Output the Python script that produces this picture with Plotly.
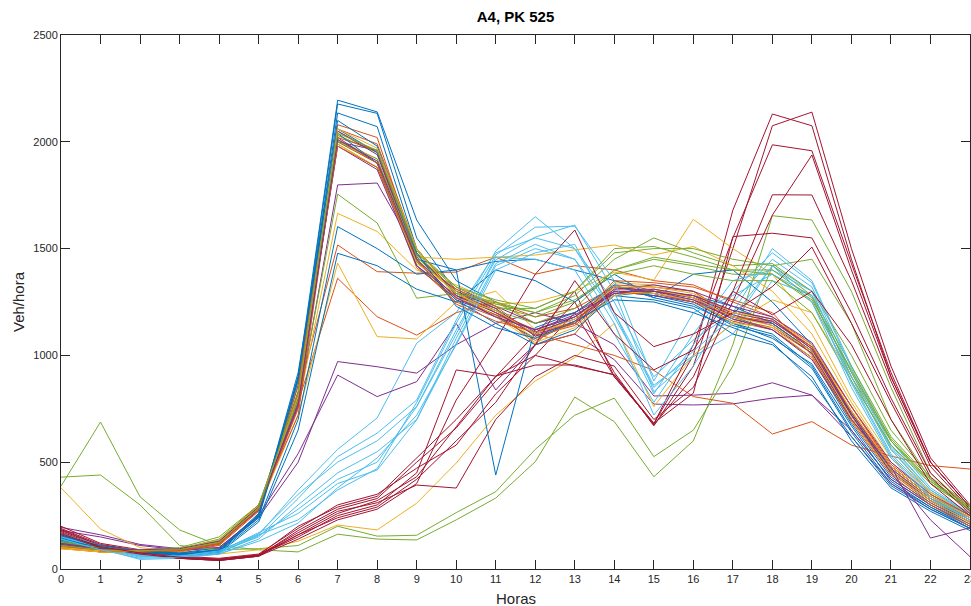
import plotly.graph_objects as go

horas = list(range(24))
tick_labels = [str(h) for h in horas]

# Lunes (azul)
lunes = [
    [150,110,85,70,90,260,900,2195,2140,1634,1350,1250,1150,1200,1320,1290,1250,1150,1100,950,650,420,300,210],
    [140,100,80,75,100,250,880,2177,2133,1550,1300,1200,1100,1180,1300,1280,1240,1140,1090,940,640,400,290,200],
    [160,105,75,70,85,240,860,2135,2071,1500,1280,1180,1080,1150,1280,1300,1270,1180,1120,990,680,430,310,220],
    [130,95,70,65,80,230,700,1603,1500,1380,1400,1440,1450,1400,1350,1300,1280,1230,1150,1020,700,450,320,230],
    [120,90,70,60,75,220,650,1478,1420,1310,1250,1400,1350,1250,1380,1270,1380,1400,1250,1050,720,460,330,240],
    [135,100,75,70,80,250,900,2060,1950,1450,1400,440,1130,1200,1330,1270,1230,1150,1080,960,670,410,290,190],
    [145,95,80,70,85,255,920,2040,1900,1420,1260,1150,1050,1120,1280,1260,1220,1100,1050,900,600,380,270,180],
    [155,110,85,75,90,245,890,2100,1980,1480,1230,1130,1080,1160,1260,1250,1200,1130,1060,880,620,390,280,190],
]
# Martes (naranja)
martes = [
    [110,85,80,80,110,270,820,1517,1392,1385,1390,1460,1380,1420,1400,1350,1330,1250,1180,1050,760,480,340,240],
    [100,80,75,85,115,280,780,1361,1181,1095,1200,1250,1180,1220,1320,1300,1280,1180,1150,1020,730,470,330,230],
    [95,80,80,90,120,285,860,2050,1950,1420,1250,1180,1100,1050,1000,930,807,776,632,690,580,529,484,468],
    [105,85,85,90,125,290,800,2080,2020,1470,1300,1200,1120,1180,1310,1310,1270,1170,1130,1010,720,460,320,220],
    [100,80,80,85,120,280,750,2060,1990,1500,1280,1220,1050,1100,1330,1320,1300,1180,1160,1030,740,480,340,240],
    [115,90,85,95,130,300,720,2020,1960,1440,1310,1230,1090,1140,1290,1290,1250,1160,1120,990,700,450,310,210],
    [100,85,80,85,115,275,830,2000,1900,1410,1270,1190,1070,1160,1300,1300,1280,1210,1170,1040,760,490,350,250],
    [110,85,80,90,120,280,810,1980,1880,1450,1240,1160,1110,1150,1350,1340,1320,1260,1200,1000,690,440,300,200],
]
# Miercoles (amarillo)
miercoles = [
    [105,85,85,95,130,290,760,1665,1580,1400,1330,1250,1150,1200,1320,1300,1280,1200,1160,1040,740,480,340,230],
    [100,80,80,90,125,280,720,1432,1088,1077,1250,1300,1120,1150,1340,1330,1300,1190,1150,1010,720,470,330,230],
    [380,187,100,80,70,90,130,206,183,308,496,720,880,990,1150,760,1000,1150,1260,1200,900,560,360,260],
    [110,85,85,95,130,290,780,2030,1950,1480,1320,1240,1250,1300,1390,1353,1637,1500,1380,1150,800,520,360,250],
    [100,80,80,90,120,285,800,2010,1920,1460,1450,1460,1470,1494,1517,1470,1510,1420,1300,1100,780,500,350,240],
    [95,80,80,90,120,280,830,2000,1900,1450,1290,1200,1080,1150,1300,1290,1260,1150,1130,990,700,450,320,220],
    [110,90,90,95,135,295,790,1990,1880,1430,1300,1180,1060,1130,1280,1310,1270,1180,1140,1020,710,460,330,230],
    [100,85,85,95,125,285,810,2060,1970,1500,1270,1210,1100,1170,1320,1320,1290,1200,1170,1050,740,480,340,240],
]
# Jueves (morado)
jueves = [
    [180,150,110,90,95,240,500,971,947,917,1050,1150,1200,1150,1050,810,814,823,872,814,650,420,300,200],
    [195,160,115,95,100,250,540,908,807,877,1150,838,1050,1100,980,772,768,773,800,814,620,400,280,190],
    [120,90,85,90,120,280,760,1798,1807,1480,1320,1230,1150,1200,1300,1280,1250,1180,1150,1020,720,470,330,230],
    [115,90,90,95,130,290,780,2000,1960,1470,1290,1210,1110,1170,1290,1290,1260,1190,1140,1010,700,460,320,220],
    [125,95,90,95,125,285,800,2020,1900,1440,1260,1190,1120,1180,1320,1300,1270,1200,1160,1040,730,480,340,240],
    [110,85,85,90,120,280,820,2050,1940,1460,1300,1220,1090,1160,1310,1330,1300,1230,1180,1060,760,500,350,250],
    [115,90,85,90,125,275,790,1980,1870,1420,1280,1200,1100,1150,1300,1300,1260,1170,1120,980,700,480,145,193],
    [120,95,90,95,130,290,770,2010,1910,1450,1270,1180,1120,1190,1290,1310,1280,1210,1170,1030,720,450,230,58],
]
# Viernes (verde)
viernes = [
    [388,688,338,183,110,90,80,163,140,136,230,332,502,805,690,432,600,1050,1654,1634,1300,850,450,280],
    [430,440,300,110,90,95,110,200,154,158,264,362,560,720,800,526,650,950,1420,1450,1150,700,420,270],
    [125,95,85,90,125,280,780,1755,1620,1268,1290,1230,1180,1250,1400,1450,1420,1380,1380,1250,900,600,400,280],
    [130,100,90,95,140,300,800,2010,1900,1470,1300,1240,1200,1280,1450,1550,1480,1420,1430,1300,1000,650,430,300],
    [120,95,90,95,135,295,830,2030,1950,1480,1310,1220,1220,1300,1480,1500,1500,1450,1420,1280,950,620,420,290],
    [115,90,85,95,130,290,810,1990,1880,1440,1270,1210,1150,1220,1400,1460,1430,1400,1380,1260,930,610,410,280],
    [125,100,90,100,150,300,790,2000,1920,1460,1290,1250,1200,1260,1380,1420,1380,1350,1350,1200,880,580,400,280],
    [110,90,85,90,125,285,820,2040,1960,1490,1320,1260,1220,1300,1500,1510,1460,1400,1400,1270,920,600,410,290],
]
# Sabado (azul claro)
sabado = [
    [150,100,60,55,75,160,370,560,707,1057,1200,1480,1550,1500,1250,900,1072,1200,1500,1350,950,600,380,260],
    [145,95,55,60,80,150,330,526,636,791,1166,1489,1649,1500,1200,860,1000,1150,1420,1300,900,560,360,250],
    [160,110,65,60,85,165,350,500,600,760,1119,1447,1554,1610,1300,830,994,1100,1350,1280,880,540,350,240],
    [140,95,45,50,70,140,300,450,549,700,1057,1420,1500,1450,1150,721,950,1250,1450,1320,920,570,370,250],
    [155,100,60,55,75,155,280,420,500,760,1100,1460,1450,1400,1100,780,1050,1300,1480,1340,940,580,370,260],
    [150,105,65,60,80,170,260,400,463,698,1080,1430,1520,1450,1200,820,1100,1350,1400,1300,900,560,350,240],
    [165,110,70,60,85,160,230,370,470,780,1150,1470,1600,1605,1350,880,1200,1280,1380,1280,870,530,340,230],
    [140,90,50,55,70,130,215,380,520,720,1050,1400,1480,1520,1180,850,1020,1180,1420,1250,850,520,330,230],
]
# Domingo (rojo oscuro)
domingo = [
    [190,115,85,55,45,65,200,290,340,520,700,900,1100,1300,900,680,1000,1680,2130,2075,1450,900,500,290],
    [185,110,80,50,40,60,180,280,330,500,660,880,1050,1250,920,670,950,1500,2075,2139,1500,950,520,300],
    [200,120,90,60,50,70,190,300,350,472,580,820,1000,1200,900,680,1050,1550,1986,1958,1430,920,500,290],
    [175,105,75,50,40,60,160,260,320,432,666,903,1000,950,910,674,900,1300,1752,1751,1350,880,480,280],
    [180,110,80,55,45,65,170,270,310,393,379,700,900,1000,950,700,850,1250,1657,1938,1400,900,500,290],
    [170,100,75,50,45,65,150,250,300,450,932,903,955,955,908,683,823,1556,1572,1550,1200,800,450,270],
    [160,100,70,50,40,60,140,230,280,400,791,1072,1380,1587,1200,1041,1100,1200,1322,1507,1150,780,430,260],
    [165,105,75,55,45,65,160,240,290,420,600,780,1050,1350,1100,932,1025,1300,1190,1300,1050,700,400,250],
]

dias = [lunes, martes, miercoles, jueves, viernes, sabado, domingo]
colores = ["#0072BD", "#D95319", "#EDB120", "#7E2F8E", "#77AC30", "#4DBEEE", "#A2142F"]

fig = go.Figure()
n_semanas = len(lunes)
for w in range(n_semanas):
    for d, serie in enumerate(dias):
        fig.add_trace(go.Scatter(
            x=horas, y=serie[w], mode="lines",
            line=dict(color=colores[d], width=1),
            showlegend=False, hoverinfo="skip"))

axis_color = "#262626"
fig.update_layout(
    width=971, height=606,
    margin=dict(l=61, r=1, t=35, b=37, autoexpand=False),
    paper_bgcolor="white", plot_bgcolor="white",
    font=dict(family="Liberation Sans, Arial, sans-serif", color=axis_color, size=11),
    title=dict(text="<b>A4, PK 525</b>", x=0.5, xanchor="center", xref="paper",
               y=1 - 17 / 606, yanchor="middle",
               font=dict(size=15, color="black")),
    annotations=[
        dict(text="Horas", xref="paper", yref="paper", x=0.5, y=-29 / 534,
             xanchor="center", yanchor="middle", showarrow=False,
             font=dict(size=15, color=axis_color)),
        dict(text="Veh/hora", xref="paper", yref="paper", x=-43 / 909, y=0.5,
             xanchor="center", yanchor="middle", showarrow=False, textangle=-90,
             font=dict(size=15, color=axis_color)),
    ],
)
fig.update_xaxes(
    range=[0, 23], tickmode="array", tickvals=horas, ticktext=tick_labels,
    showgrid=False, zeroline=False, showline=True, linecolor=axis_color, linewidth=1,
    mirror="allticks", ticks="inside", ticklen=9, tickcolor=axis_color,
    tickfont=dict(size=11, color=axis_color), automargin=False,
    ticklabeloverflow="allow",
)
fig.update_yaxes(
    range=[0, 2500], tickmode="array", tickvals=[0, 500, 1000, 1500, 2000, 2500],
    showgrid=False, zeroline=False, showline=True, linecolor=axis_color, linewidth=1,
    mirror="allticks", ticks="inside", ticklen=9, tickcolor=axis_color,
    tickfont=dict(size=11, color=axis_color), automargin=False,
    ticklabeloverflow="allow",
)

fig.write_html("out.html", config={"displayModeBar": False},
               post_script="document.body.style.margin='0';document.body.style.overflow='hidden';")
